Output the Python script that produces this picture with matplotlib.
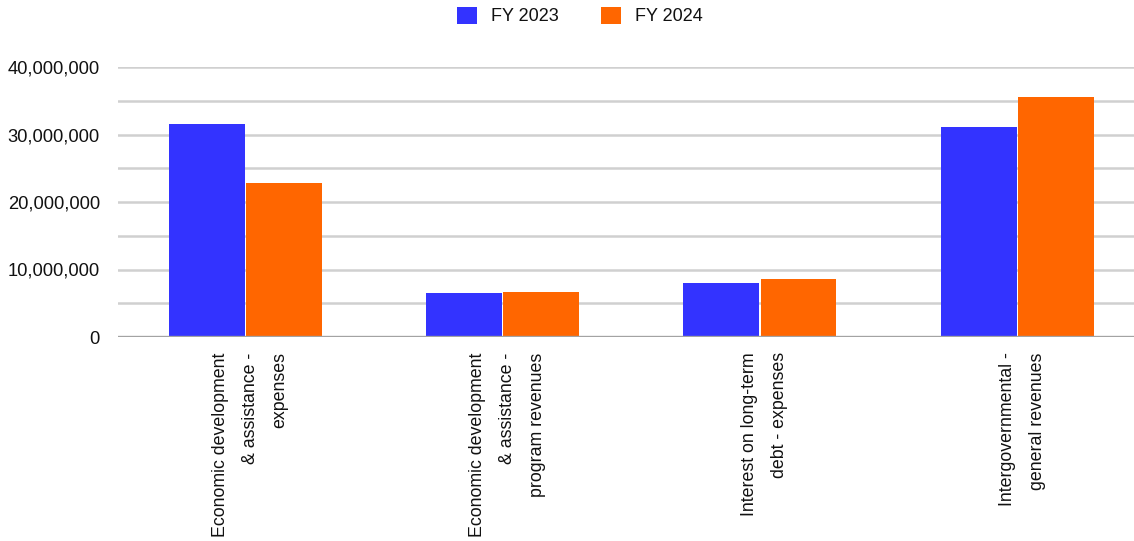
import matplotlib
matplotlib.use("Agg")
import matplotlib.pyplot as plt
import matplotlib.transforms as mtransforms
from matplotlib.ticker import MultipleLocator, FuncFormatter
from matplotlib.patches import Patch
import numpy as np

BLUE = "#3333ff"
ORANGE = "#ff6600"
GRID = "#d0d0d0"
BASE = "#a3a3a3"
TEXT = "#111111"

categories = [
    "Economic development\n& assistance -\nexpenses",
    "Economic development\n& assistance -\nprogram revenues",
    "Interest on long-term\ndebt - expenses",
    "Intergovernmental -\ngeneral revenues",
]
fy2023 = [31_550_000, 6_530_000, 7_970_000, 31_100_000]
fy2024 = [22_800_000, 6_680_000, 8_560_000, 35_560_000]
series_names = ["FY 2023", "FY 2024"]

plt.rcParams.update({
    "font.family": ["Liberation Sans", "DejaVu Sans"],
    "font.size": 13,
    "text.color": TEXT,
    "xtick.color": TEXT,
    "ytick.color": TEXT,
})

W, H = 1134, 541
fig = plt.figure(figsize=(W / 100, H / 100), dpi=100, facecolor="white")
ax = fig.add_axes([118 / W, (H - 337) / H, (1146 - 118) / W, 270 / H])

x = np.arange(len(categories))
ax.bar(x - 0.15, fy2023, width=0.295, color=BLUE, zorder=3)
ax.bar(x + 0.15, fy2024, width=0.295, color=ORANGE, zorder=3)

ax.set_xlim(-0.494, 3.5)
ax.set_ylim(0, 40_000_000)
ax.yaxis.set_major_locator(MultipleLocator(10_000_000))
ax.yaxis.set_minor_locator(MultipleLocator(5_000_000))
ax.yaxis.set_major_formatter(FuncFormatter(lambda v, p: f"{v:,.0f}"))
ax.grid(axis="y", which="both", color=GRID, linewidth=1.8, zorder=0)
ax.axhline(0, color=BASE, linewidth=2.4, zorder=4)

for s in ax.spines.values():
    s.set_visible(False)
ax.tick_params(axis="y", which="both", length=0, pad=13, labelsize=13.2)
ax.tick_params(axis="x", length=0, pad=11)

ax.set_xticks(x)
ax.set_xticklabels(categories, rotation=90, ha="center", va="top", linespacing=2.0,
                   fontsize=12.8)
shift = mtransforms.ScaledTranslation(5 / 100, 0, fig.dpi_scale_trans)
for lbl in ax.get_xticklabels():
    lbl.set_multialignment("right")
    lbl.set_transform(lbl.get_transform() + shift)

handles = [Patch(facecolor=BLUE, edgecolor="none"), Patch(facecolor=ORANGE, edgecolor="none")]
fig.legend(handles, series_names, loc="center", bbox_to_anchor=(580 / W, 1 - 16 / H),
           ncol=2, frameon=False, handlelength=1.1, handleheight=1.1,
           handletextpad=0.8, columnspacing=2.3, fontsize=13)

fig.savefig("out.png", dpi=100, facecolor="white")
